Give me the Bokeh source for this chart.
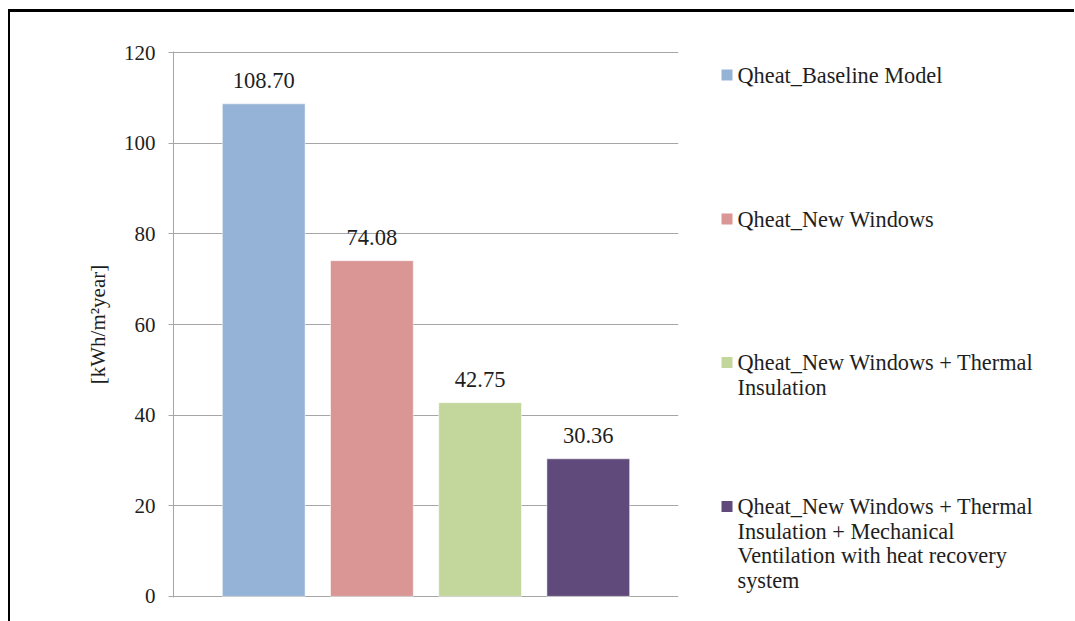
from bokeh.plotting import figure
from bokeh.models import ColumnDataSource, Range1d, FixedTicker, LabelSet
from bokeh.layouts import row
from bokeh.embed import file_html
from bokeh.resources import INLINE

series = [
    "Qheat_Baseline Model",
    "Qheat_New Windows",
    "Qheat_New Windows + Thermal\nInsulation",
    "Qheat_New Windows + Thermal\nInsulation + Mechanical\nVentilation with heat recovery\nsystem",
]
values = [108.70, 74.08, 42.75, 30.36]
colors = ["#95B3D7", "#D99694", "#C3D69B", "#604A7B"]
y_ticks = [0, 20, 40, 60, 80, 100, 120]
y_label = "[kWh/m\u00b2year]"

SERIF = "Liberation Serif"
TXT = "#1e1e1e"
GRID = "#a6a6a6"

src = ColumnDataSource(dict(
    x=list(range(len(values))),
    top=values,
    color=colors,
    label=[f"{v:.2f}" for v in values],
))

H = 609
TOP = 39
BOT = H - TOP - 546

# ---------------- main chart ----------------
p = figure(width=680, height=H, output_backend="svg", toolbar_location=None,
           x_range=Range1d(-0.834, 3.834), y_range=Range1d(-0.25, 120.25),
           x_axis_location=None)
p.min_border_left = 163
p.min_border_right = 12
p.min_border_top = TOP
p.min_border_bottom = BOT
p.outline_line_color = None
p.xgrid.visible = False
p.ygrid.grid_line_color = GRID
p.ygrid.grid_line_width = 1

ax = p.yaxis[0]
ax.ticker = FixedTicker(ticks=y_ticks)
ax.minor_tick_line_color = None
ax.major_tick_in = 0
ax.major_tick_out = 5
ax.major_tick_line_color = GRID
ax.axis_line_color = GRID
ax.major_label_text_font = SERIF
ax.major_label_text_font_size = "21px"
ax.major_label_text_color = TXT
ax.major_label_standoff = 13
ax.axis_label = y_label
ax.axis_label_text_font = SERIF
ax.axis_label_text_font_size = "21px"
ax.axis_label_text_font_style = "normal"
ax.axis_label_text_color = TXT
ax.axis_label_standoff = 11

p.vbar(x="x", top="top", width=0.765, color="color", line_color="white",
       line_alpha=0.5, source=src)

p.add_layout(LabelSet(x="x", y="top", text="label", source=src, y_offset=23,
                      text_align="center", text_baseline="middle",
                      text_font=SERIF, text_font_size="22.5px", text_color=TXT))

# ---------------- legend panel ----------------
# frame spans page pixels x 690..1074, y 51..597 (y pointing down)
leg = figure(width=384, height=H, output_backend="svg", toolbar_location=None,
             x_range=Range1d(690, 1074), y_range=Range1d(597, 51),
             x_axis_location=None, y_axis_location=None)
leg.min_border_left = 0
leg.min_border_right = 0
leg.min_border_top = TOP
leg.min_border_bottom = BOT
leg.outline_line_color = None
leg.xgrid.visible = False
leg.ygrid.visible = False

entry_y = [74.5, 218.5, 362, 506]
line_step = 24.5
lx, ly, lt = [], [], []
for name, yy in zip(series, entry_y):
    for i, line in enumerate(name.split("\n")):
        lx.append(737)
        ly.append(yy + i * line_step)
        lt.append(line)

leg.rect(x=[726.5] * len(colors), y=entry_y, width=11, height=11,
         fill_color=colors, line_color=None)
leg.text(x=lx, y=ly, text=lt, text_font={"value": SERIF},
         text_font_size="22.3px", text_color=TXT,
         text_align="left", text_baseline="middle")

layout = row(p, leg, styles={
    "margin-left": "8px",
    "margin-top": "9px",
    "border-left": "2px solid black",
    "border-top": "3px solid black",
    "overflow": "hidden",
})

open("out.html", "w").write(file_html(layout, INLINE))
